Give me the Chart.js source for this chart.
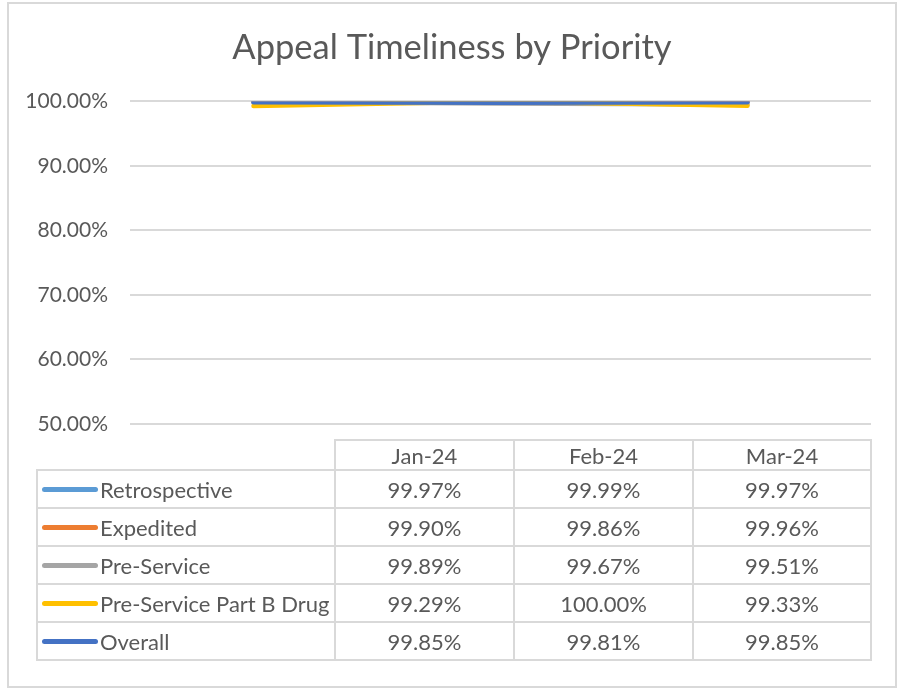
<!DOCTYPE html>
<html>
<head>
<meta charset="utf-8">
<script src="https://cdn.jsdelivr.net/npm/chart.js@4.4.1/dist/chart.umd.min.js"></script>
<style>
  html, body { margin: 0; padding: 0; background: #fff; }
  #frame {
    position: absolute; left: 7px; top: 2px; width: 890px; height: 686px;
    border: 2px solid #d9d9d9; box-sizing: border-box;
  }
  #wrap { position: absolute; left: 0; top: 0; width: 904px; height: 692px; }
  #datatable {
    position: absolute; left: 36px; top: 439px;
    border-collapse: collapse; table-layout: fixed;
    font-family: Lato, "Open Sans", sans-serif; font-size: 22px; color: #595959;
  }
  #datatable td { border: 2px solid #d9d9d9; padding: 0; text-align: center; white-space: nowrap; }
  #datatable tr.head td { height: 28px; }
  #datatable tr.body td { height: 36px; }
  #datatable td.corner { border-top: none; border-left: none; }
  #datatable td.label { text-align: left; padding-left: 4px; }
  .swatch {
    display: inline-block; width: 56px; height: 5px; border-radius: 3px;
    vertical-align: middle; margin-right: 2px; position: relative; top: -2px;
  }
</style>
</head>
<body>
<div id="frame"></div>
<div id="wrap"><canvas id="chart" width="904" height="692"></canvas></div>
<table id="datatable"></table>
<script>
'use strict';

// chart data
var months = ['Jan-24', 'Feb-24', 'Mar-24'];
var seriesNames = ['Retrospective', 'Expedited', 'Pre-Service', 'Pre-Service Part B Drug', 'Overall'];
var retrospective = [99.97, 99.99, 99.97];
var expedited     = [99.90, 99.86, 99.96];
var preService    = [99.89, 99.67, 99.51];
var partBDrug     = [99.29, 100.00, 99.33];
var overall       = [99.85, 99.81, 99.85];
var yTicks = [50, 60, 70, 80, 90, 100];

var seriesValues = [retrospective, expedited, preService, partBDrug, overall];
var colors = ['#5b9bd5', '#ed7d31', '#a5a5a5', '#ffc000', '#4472c4'];

var textColor = '#595959';
var fontFamily = 'Lato, "Open Sans", sans-serif';

var datasets = seriesNames.map(function(name, i) {
  return {
    label: name,
    data: seriesValues[i],
    borderColor: colors[i],
    backgroundColor: colors[i],
    borderWidth: 4.5,
    borderCapStyle: 'round',
    borderJoinStyle: 'round',
    pointRadius: 0,
    tension: 0,
    yAxisID: 'y',
    // later series sit on top, as in the original
    order: seriesNames.length - 1 - i
  };
});

new Chart(document.getElementById('chart'), {
  type: 'line',
  data: { labels: months, datasets: datasets },
  options: {
    responsive: false,
    animation: false,
    devicePixelRatio: 1,
    layout: { padding: { left: 0, right: 0, top: 0, bottom: 268 } },
    plugins: {
      legend: { display: false },
      tooltip: { enabled: false },
      title: {
        display: true,
        text: 'Appeal Timeliness by Priority',
        color: textColor,
        font: { family: fontFamily, size: 34.5, weight: 'normal' },
        padding: { top: 27, bottom: 33 }
      }
    },
    scales: {
      x: {
        display: false,
        offset: true
      },
      y: {
        min: 50,
        max: 100,
        afterFit: function(scale) { scale.width = 130; },
        afterBuildTicks: function(scale) {
          scale.ticks = yTicks.map(function(v) { return { value: v }; });
        },
        border: { display: false },
        grid: { color: '#d9d9d9', lineWidth: 2, drawTicks: false },
        ticks: {
          padding: 22,
          color: textColor,
          font: { family: fontFamily, size: 21 },
          callback: function(v) { return v.toFixed(2) + '%'; }
        }
      },
      // empty right margin so the title stays centred on the whole chart
      yRight: {
        position: 'right',
        min: 50,
        max: 100,
        afterFit: function(scale) { scale.width = 33; },
        border: { display: false },
        grid: { display: false },
        ticks: { display: false }
      }
    }
  }
});

// data table under the plot
var table = document.getElementById('datatable');
var colWidths = [298, 179, 179, 178];
var colgroup = document.createElement('colgroup');
colWidths.forEach(function(w) {
  var col = document.createElement('col');
  col.style.width = w + 'px';
  colgroup.appendChild(col);
});
table.appendChild(colgroup);

var head = table.insertRow();
head.className = 'head';
head.insertCell().className = 'corner';
months.forEach(function(m) { head.insertCell().textContent = m; });

seriesNames.forEach(function(name, i) {
  var row = table.insertRow();
  row.className = 'body';
  var label = row.insertCell();
  label.className = 'label';
  var sw = document.createElement('span');
  sw.className = 'swatch';
  sw.style.background = colors[i];
  label.appendChild(sw);
  label.appendChild(document.createTextNode(name));
  seriesValues[i].forEach(function(v) {
    row.insertCell().textContent = v.toFixed(2) + '%';
  });
});
</script>
</body>
</html>
